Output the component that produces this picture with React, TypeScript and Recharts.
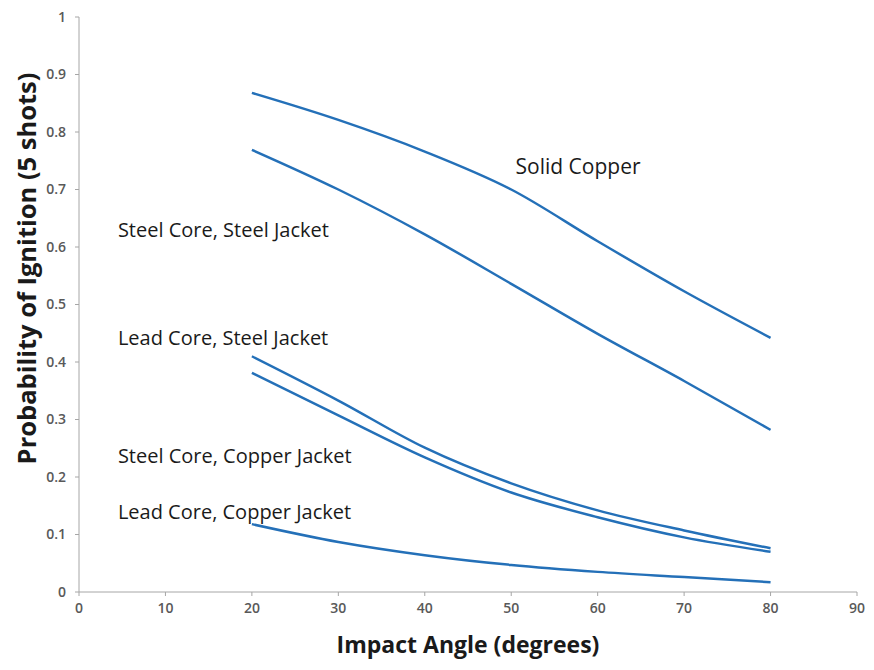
import React from 'react';
import { LineChart, Line, XAxis, YAxis, ReferenceDot, Label } from 'recharts';

const angles = [20, 30, 40, 50, 60, 70, 80];
const solidCopper = [0.868, 0.821, 0.766, 0.700, 0.610, 0.523, 0.442];
const steelSteel = [0.769, 0.700, 0.622, 0.536, 0.449, 0.367, 0.282];
const leadSteel = [0.410, 0.333, 0.251, 0.189, 0.142, 0.107, 0.076];
const steelCopper = [0.381, 0.307, 0.234, 0.173, 0.130, 0.095, 0.070];
const leadCopper = [0.118, 0.087, 0.064, 0.047, 0.035, 0.026, 0.017];

const xTicks = [0, 10, 20, 30, 40, 50, 60, 70, 80, 90];
const yTicks = [0, 0.1, 0.2, 0.3, 0.4, 0.5, 0.6, 0.7, 0.8, 0.9, 1];

const seriesNames = [
  'Solid Copper',
  'Steel Core, Steel Jacket',
  'Lead Core, Steel Jacket',
  'Steel Core, Copper Jacket',
  'Lead Core, Copper Jacket',
];

const data = angles.map((a, i) => ({
  angle: a,
  solidCopper: solidCopper[i],
  steelSteel: steelSteel[i],
  leadSteel: leadSteel[i],
  steelCopper: steelCopper[i],
  leadCopper: leadCopper[i],
}));

const LINE = '#2470b8';
const AXIS = '#a6a6a6';
const FONT = '"Open Sans", sans-serif';

const fmtY = (v: number) => (v === 0 || v === 1 ? String(v) : v.toFixed(1));

const labelAt = (x: number, y: number, text: string, size: number) => (
  <ReferenceDot
    x={x}
    y={y}
    r={0}
    ifOverflow="visible"
    label={(props: any) => {
      const vb = props.viewBox || {};
      const cx = vb.cx !== undefined ? vb.cx : vb.x + (vb.width || 0) / 2;
      const cy = vb.cy !== undefined ? vb.cy : vb.y + (vb.height || 0) / 2;
      return (
        <text x={cx} y={cy} dy="0.35em" fontFamily={FONT} fontSize={size} fill="#1a1a1a" textAnchor="start">
          {text}
        </text>
      );
    }}
  />
);

const XTitle = (props: any) => {
  const vb = props.viewBox || {};
  return (
    <text
      x={vb.x + vb.width / 2}
      y={vb.y + 53}
      dy="0.35em"
      textAnchor="middle"
      fontFamily={FONT}
      fontSize={23}
      fontWeight={700}
      fill="#1a1a1a"
    >
      Impact Angle (degrees)
    </text>
  );
};

const YTitle = (props: any) => {
  const vb = props.viewBox || {};
  const cx = 19;
  const cy = vb.y + vb.height / 2 - 36;
  return (
    <text
      x={cx}
      y={cy}
      dy="0.35em"
      textAnchor="middle"
      transform={`rotate(-90 ${cx} ${cy})`}
      fontFamily={FONT}
      fontSize={25.5}
      fontWeight={700}
      fill="#1a1a1a"
    >
      Probability of Ignition (5 shots)
    </text>
  );
};

export default function App() {
  const tickStyle = { fontFamily: FONT, fontSize: 14, fill: '#595959', fontWeight: 600 };
  return (
    <div style={{ width: 866, height: 654 }}>
      <LineChart width={866} height={654} data={data} margin={{ top: 9, right: 17, left: 0, bottom: 0 }}>
        <XAxis
          dataKey="angle"
          type="number"
          domain={[0, 90]}
          ticks={xTicks}
          interval={0}
          stroke={AXIS}
          tickLine={{ stroke: AXIS }}
          tickSize={4}
          tickMargin={7}
          tick={tickStyle}
          height={70}
        >
          <Label content={XTitle} />
        </XAxis>
        <YAxis
          type="number"
          domain={[0, 1]}
          ticks={yTicks}
          interval={0}
          tickFormatter={fmtY}
          stroke={AXIS}
          tickLine={{ stroke: AXIS }}
          tickSize={4}
          tickMargin={9}
          tick={tickStyle}
          width={71}
        >
          <Label content={YTitle} />
        </YAxis>
        <Line type="monotone" dataKey="solidCopper" name={seriesNames[0]} stroke={LINE} strokeWidth={2.5} dot={false} isAnimationActive={false} />
        <Line type="monotone" dataKey="steelSteel" name={seriesNames[1]} stroke={LINE} strokeWidth={2.5} dot={false} isAnimationActive={false} />
        <Line type="monotone" dataKey="leadSteel" name={seriesNames[2]} stroke={LINE} strokeWidth={2.5} dot={false} isAnimationActive={false} />
        <Line type="monotone" dataKey="steelCopper" name={seriesNames[3]} stroke={LINE} strokeWidth={2.5} dot={false} isAnimationActive={false} />
        <Line type="monotone" dataKey="leadCopper" name={seriesNames[4]} stroke={LINE} strokeWidth={2.5} dot={false} isAnimationActive={false} />
        {labelAt(50.5, 0.74, seriesNames[0], 21)}
        {labelAt(4.5, 0.629, seriesNames[1], 20)}
        {labelAt(4.5, 0.442, seriesNames[2], 20)}
        {labelAt(4.5, 0.236, seriesNames[3], 20)}
        {labelAt(4.5, 0.139, seriesNames[4], 20)}
      </LineChart>
    </div>
  );
}
